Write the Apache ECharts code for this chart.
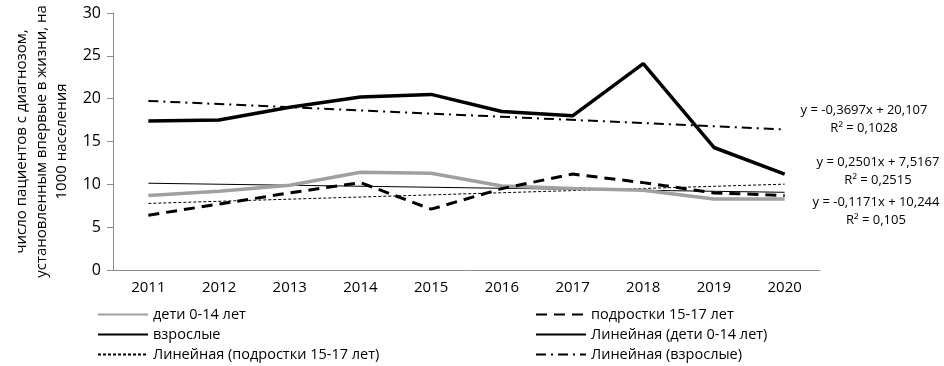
<!DOCTYPE html>
<html>
<head>
<meta charset="utf-8">
<script src="https://cdn.jsdelivr.net/npm/echarts@6/dist/echarts.min.js"></script>
<style>
  html, body { margin: 0; padding: 0; background: #fff; }
  #chart { width: 944px; height: 366px; }
</style>
</head>
<body>
<div id="chart"></div>
<script>
const years = ['2011', '2012', '2013', '2014', '2015', '2016', '2017', '2018', '2019', '2020']
const children = [8.7, 9.2, 9.9, 11.4, 11.3, 9.8, 9.5, 9.3, 8.3, 8.3]
const teens = [6.4, 7.7, 9.0, 10.2, 7.1, 9.5, 11.2, 10.2, 9.0, 8.7]
const adults = [17.4, 17.5, 19.0, 20.2, 20.5, 18.5, 18.0, 24.1, 14.3, 11.2]
// trend lines: value at first and last year
const trendChildren = [10.13, 9.07]
const trendTeens = [7.77, 10.02]
const trendAdults = [19.74, 16.41]
const equations = [
  ['y = -0,3697x + 20,107', 'R² = 0,1028'],
  ['y = 0,2501x + 7,5167', 'R² = 0,2515'],
  ['y = -0,1171x + 10,244', 'R² = 0,105'],
]
const yTicks = [0, 5, 10, 15, 20, 25, 30]

const FONT = 'Open Sans'
const axisColor = '#8c8c8c'
const last = years.length - 1

const chart = echarts.init(document.getElementById('chart'))

const ends = (arr) => [[0, arr[0]], [last, arr[1]]]

function eqText(lines, cx, top) {
  return {
    type: 'text',
    x: cx,
    y: top,
    style: {
      text: lines.join('\n'),
      font: '13px "' + FONT + '"',
      fill: '#000',
      align: 'center',
      lineHeight: 18,
    },
  }
}

const legendBase = {
  top: 302,
  height: 80,
  orient: 'vertical',
  itemWidth: 50,
  itemHeight: 14,
  itemGap: 5,
  itemStyle: { opacity: 0 },
  textStyle: { color: '#000', fontSize: 14.5, lineHeight: 15 },
}

chart.setOption({
  animation: false,
  backgroundColor: '#fff',
  textStyle: { fontFamily: FONT },
  grid: {
    left: 113, right: 124, top: 13, bottom: 96,
    containLabel: false,
    outerBoundsMode: 'none',
  },
  xAxis: {
    type: 'category',
    data: years,
    boundaryGap: true,
    axisLine: { lineStyle: { color: axisColor } },
    axisTick: { lineStyle: { color: axisColor }, length: 5 },
    axisLabel: { color: '#000', fontSize: 15, margin: 10 },
  },
  yAxis: {
    type: 'value',
    min: yTicks[0],
    max: yTicks[yTicks.length - 1],
    interval: 5,
    splitLine: { show: false },
    axisLine: { show: true, lineStyle: { color: axisColor } },
    axisTick: { show: true, lineStyle: { color: axisColor }, length: 6 },
    axisLabel: { color: '#000', fontSize: 16, margin: 12 },
    name: 'число пациентов с диагнозом,\nустановленным впервые в жизни, на\n1000 населения',
    nameLocation: 'middle',
    nameGap: 37,
    nameTextStyle: { color: '#000', fontSize: 15, lineHeight: 20, align: 'center' },
  },
  legend: [
    Object.assign({}, legendBase, {
      left: 92,
      data: ['дети 0-14 лет', 'взрослые', 'Линейная (подростки 15-17 лет)'],
    }),
    Object.assign({}, legendBase, {
      left: 530,
      data: ['подростки 15-17 лет', 'Линейная (дети 0-14 лет)', 'Линейная (взрослые)'],
    }),
  ],
  graphic: [
    eqText(equations[0], 864, 101),
    eqText(equations[1], 878, 153),
    eqText(equations[2], 876, 193),
  ],
  series: [
    {
      name: 'дети 0-14 лет',
      type: 'line',
      data: children,
      symbol: 'none',
      itemStyle: { color: '#a0a0a0' },
      lineStyle: { color: '#a0a0a0', width: 3.5 },
      z: 3,
    },
    {
      name: 'подростки 15-17 лет',
      type: 'line',
      data: teens,
      symbol: 'none',
      itemStyle: { color: '#000' },
      lineStyle: { color: '#000', width: 3, type: [11, 7] },
      z: 4,
    },
    {
      name: 'взрослые',
      type: 'line',
      data: adults,
      symbol: 'none',
      itemStyle: { color: '#000' },
      lineStyle: { color: '#000', width: 3.5 },
      z: 4,
    },
    {
      name: 'Линейная (дети 0-14 лет)',
      type: 'line',
      data: ends(trendChildren),
      symbol: 'none',
      itemStyle: { color: '#000' },
      lineStyle: { color: '#000', width: 1 },
      z: 2,
    },
    {
      name: 'Линейная (подростки 15-17 лет)',
      type: 'line',
      data: ends(trendTeens),
      symbol: 'none',
      itemStyle: { color: '#000' },
      lineStyle: { color: '#000', width: 1, type: [3, 2] },
      z: 2,
    },
    {
      name: 'Линейная (взрослые)',
      type: 'line',
      data: ends(trendAdults),
      symbol: 'none',
      itemStyle: { color: '#000' },
      lineStyle: { color: '#000', width: 2, type: [10, 5, 2, 5] },
      z: 2,
    },
  ],
})
</script>
</body>
</html>
